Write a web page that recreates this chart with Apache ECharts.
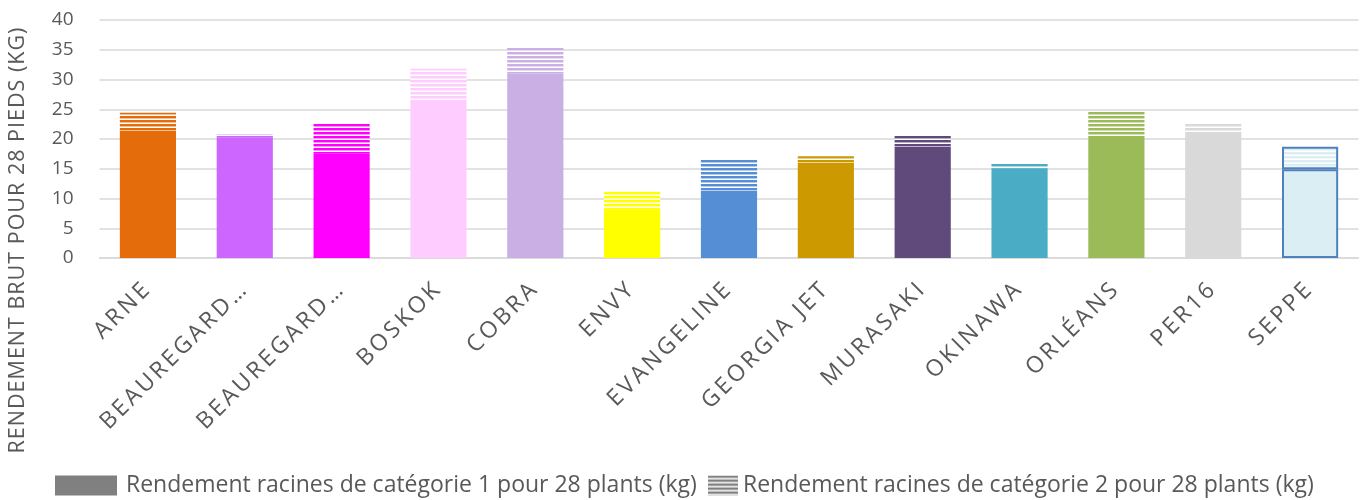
<!DOCTYPE html>
<html>
<head>
<meta charset="utf-8">
<script src="https://cdn.jsdelivr.net/npm/echarts@6/dist/echarts.min.js"></script>
<style>
html,body{margin:0;padding:0;background:#fff;}
#main{width:1362px;height:500px;}
</style>
</head>
<body>
<div id="main"></div>
<script>
const categories = ['ARNE','BEAUREGARD…','BEAUREGARD…','BOSKOK','COBRA','ENVY','EVANGELINE','GEORGIA JET','MURASAKI','OKINAWA','ORLÉANS','PER16','SEPPE'];
const cat1Values = [21.4, 20.3, 17.6, 26.6, 31.0, 8.2, 11.3, 16.0, 18.7, 15.0, 20.5, 21.2, 14.9];
const cat2Values = [3.0, 0.5, 5.1, 5.2, 4.3, 3.1, 5.2, 1.1, 1.8, 0.9, 4.2, 1.5, 3.8];
const yTicks = [0, 5, 10, 15, 20, 25, 30, 35, 40];
const seriesNames = ['Rendement racines de catégorie 1 pour 28 plants (kg)', 'Rendement racines de catégorie 2 pour 28 plants (kg)'];
const yAxisTitle = 'RENDEMENT BRUT POUR 28 PIEDS (KG)';

const barColors = ['#E46C0A','#CC66FF','#FF00FF','#FFCCFF','#C9AFE3','#FFFF00','#558ED5','#CC9900','#604A7B','#4BACC6','#9BBB59','#D9D9D9','#DBEEF4'];
const borderColors = [null,null,null,null,null,null,null,null,null,null,null,null,'#4F81BD'];

// letter spacing support: a font family marker "LSn" means n px of letter spacing
(function () {
  const proto = CanvasRenderingContext2D.prototype;
  const orig = proto.fillText;
  proto.fillText = function () {
    const m = /LS(\d+)/.exec(this.font || '');
    const want = m ? m[1] + 'px' : '0px';
    if ('letterSpacing' in this && this.letterSpacing !== want) {
      this.letterSpacing = want;
      const f = this.font;
      this.font = f;
    }
    return orig.apply(this, arguments);
  };
})();

function stripes(color) {
  const c = document.createElement('canvas');
  c.width = 4; c.height = 4;
  const ctx = c.getContext('2d');
  ctx.fillStyle = '#ffffff';
  ctx.fillRect(0, 0, 4, 4);
  ctx.fillStyle = color;
  ctx.fillRect(0, 0, 4, 2);
  ctx.globalAlpha = 0.45;
  ctx.fillRect(0, 2, 4, 1);
  return { image: c, repeat: 'repeat' };
}

function itemData(values, striped) {
  return values.map((v, i) => {
    const st = { color: striped ? stripes(barColors[i]) : barColors[i] };
    if (borderColors[i]) { st.borderColor = borderColors[i]; st.borderWidth = 2; }
    return { value: v, itemStyle: st };
  });
}

const font = '"Open Sans", "Liberation Sans", sans-serif';
const chart = echarts.init(document.getElementById('main'), null, { renderer: 'canvas' });
chart.setOption({
  animation: false,
  backgroundColor: '#ffffff',
  grid: { left: 99.5, right: 3.5, top: 20, bottom: 242, containLabel: false },
  xAxis: {
    type: 'category',
    data: categories,
    axisLine: { show: true, lineStyle: { color: '#D9D9D9', width: 1.5 } },
    axisTick: { show: false },
    axisLabel: { rotate: 45, interval: 0, margin: 27, color: '#595959', fontSize: 23, fontFamily: 'LS3, ' + font }
  },
  yAxis: {
    type: 'value',
    min: yTicks[0], max: yTicks[yTicks.length - 1], interval: 5,
    axisLine: { show: false },
    axisTick: { show: false },
    axisLabel: { color: '#595959', fontSize: 19, fontFamily: font, margin: 26 },
    splitLine: { lineStyle: { color: '#D9D9D9', width: 1.5 } }
  },
  legend: [
    {
      data: [{ name: seriesNames[0], icon: 'rect', itemStyle: { color: '#808080' } }],
      left: 50, top: 469, itemWidth: 62, itemHeight: 20,
      textStyle: { color: '#595959', fontSize: 23, fontFamily: font, padding: [0, 0, 0, 4] }
    },
    {
      data: [{ name: seriesNames[1], icon: 'rect', itemStyle: { color: stripes('#808080') } }],
      left: 703, top: 469, itemWidth: 30, itemHeight: 20,
      textStyle: { color: '#595959', fontSize: 23, fontFamily: font }
    }
  ],
  graphic: [{
    type: 'text',
    x: 18, y: 240,
    rotation: Math.PI / 2,
    style: { text: yAxisTitle, fill: '#595959', font: '21.5px LS1, ' + font, textAlign: 'center', textVerticalAlign: 'middle' }
  }],
  series: [
    { name: seriesNames[0], type: 'bar', stack: 'total', barWidth: '58%', data: itemData(cat1Values, false) },
    { name: seriesNames[1], type: 'bar', stack: 'total', barWidth: '58%', data: itemData(cat2Values, true) }
  ]
});
</script>
</body>
</html>
